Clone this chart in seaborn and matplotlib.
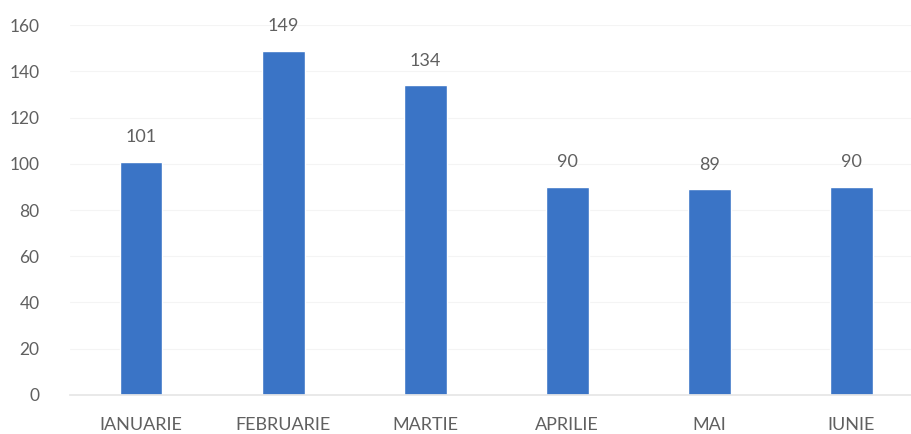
import matplotlib
matplotlib.use("Agg")
import matplotlib.pyplot as plt
import seaborn as sns
import pandas as pd

# ── Data ───────────────────────────────────────────────────────────────────────
months = ["IANUARIE", "FEBRUARIE", "MARTIE", "APRILIE", "MAI", "IUNIE"]
values = [101, 149, 134, 90, 89, 90]
y_ticks = [0, 20, 40, 60, 80, 100, 120, 140, 160]

BAR_COLOR  = "#3a74c6"
TEXT_COLOR = "#606060"

sns.set_theme(style="white")
plt.rcParams["font.family"] = ["Lato", "DejaVu Sans"]

df = pd.DataFrame({"luna": months, "valoare": values})

fig = plt.figure(figsize=(9.11, 4.34), dpi=100)
ax = fig.add_axes([0.077, 0.09, 0.923, 0.852])

sns.barplot(data=df, x="luna", y="valoare", color=BAR_COLOR,
            width=0.30, saturation=1, ax=ax)

ax.set_ylim(0, 160)
ax.set_xlim(-0.5, 5.42)
ax.set_yticks(y_ticks)
ax.set_xlabel("")
ax.set_ylabel("")
ax.yaxis.grid(True, color="#f4f4f4", linewidth=0.8)
ax.set_axisbelow(True)

for side in ["top", "right", "left"]:
    ax.spines[side].set_visible(False)
ax.spines["bottom"].set_color("#e6e6e6")

ax.tick_params(axis="y", length=0, labelsize=12.5, labelcolor=TEXT_COLOR, pad=22)
ax.tick_params(axis="x", length=0, labelsize=13, labelcolor=TEXT_COLOR, pad=16)

for container in ax.containers:
    ax.bar_label(container, fmt="%d", padding=12, fontsize=13, color=TEXT_COLOR)

fig.savefig("out.png", dpi=100)
